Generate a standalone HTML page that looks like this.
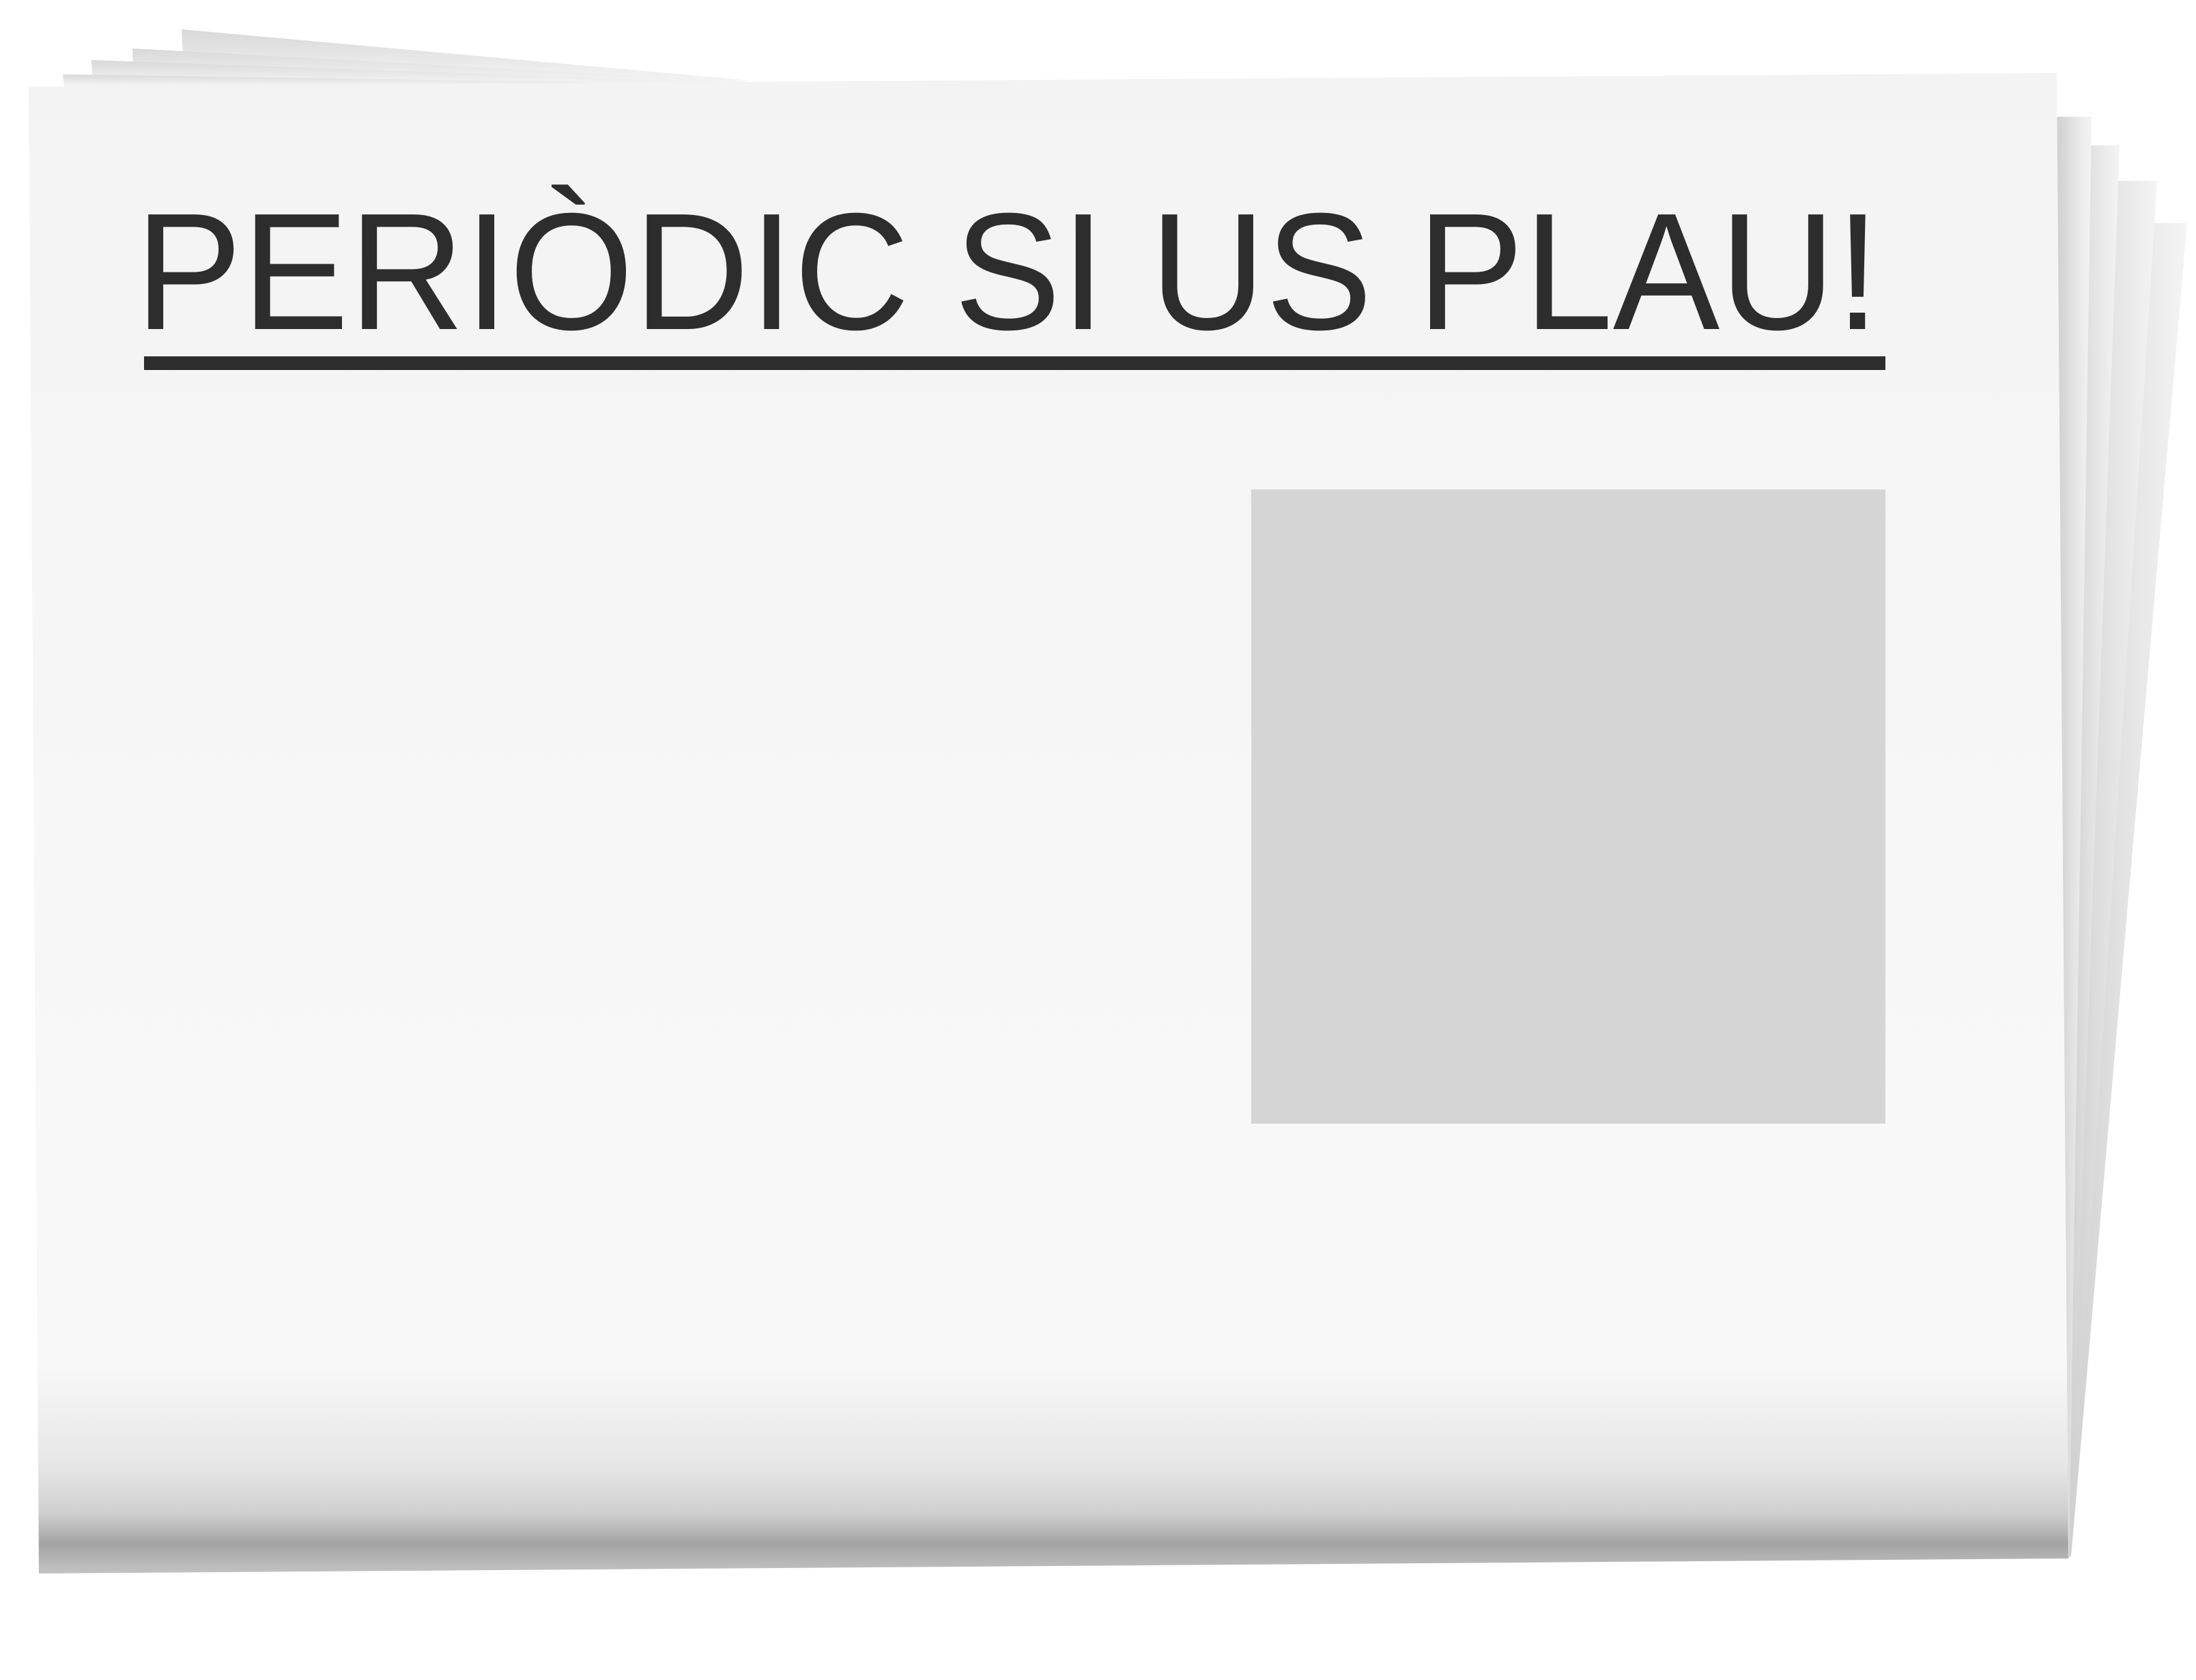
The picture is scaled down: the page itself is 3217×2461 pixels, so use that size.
<!DOCTYPE html>
<html><head><meta charset="utf-8"><style>
html,body{margin:0;padding:0;background:#fff;}
svg{display:block;}
</style></head><body>
<svg width="3217" height="2461" viewBox="0 0 3217 2461" xmlns="http://www.w3.org/2000/svg">
<defs>
<linearGradient id="bk" x1="0" y1="0" x2="1" y2="0">
<stop offset="0" stop-color="#cfcfcf"/><stop offset="0.5" stop-color="#e4e4e4"/><stop offset="1" stop-color="#f4f4f4"/>
</linearGradient>
<linearGradient id="tp" x1="0" y1="0" x2="0" y2="1">
<stop offset="0" stop-color="#d8d8d8"/><stop offset="1" stop-color="#f6f6f6"/>
</linearGradient>
<linearGradient id="main" x1="0" y1="107" x2="0" y2="2305" gradientUnits="userSpaceOnUse">
<stop offset="0" stop-color="#f3f3f3"/>
<stop offset="0.5" stop-color="#f7f7f7"/>
<stop offset="0.86" stop-color="#f8f8f8"/>
<stop offset="0.93" stop-color="#e6e6e6"/>
<stop offset="0.96" stop-color="#cfcfcf"/>
<stop offset="0.98" stop-color="#a4a4a4"/>
<stop offset="1" stop-color="#c2c2c2"/>
</linearGradient>
</defs>
<polygon points="266,43 1100,118 270,125" fill="url(#tp)"/>
<polygon points="194,71 1100,120 196,125" fill="url(#tp)"/>
<polygon points="134,88 1100,122 136,126" fill="url(#tp)"/>
<polygon points="92,109 1100,124 94,127" fill="url(#tp)"/>
<polygon points="3156,327 3204,327 3034,2280 3030,2280" fill="url(#bk)"/>
<polygon points="3102,265 3160,265 3032,2281 3030,2281" fill="url(#bk)"/>
<polygon points="3062,213 3105,213 3031,2282 3030,2282" fill="url(#bk)"/>
<polygon points="3013,171 3064,171 3031,2283 3030,2283" fill="url(#bk)"/>
<polygon points="42,127 3013,107 3030,2283 57,2305" fill="url(#main)"/>
<text x="198" y="482" font-family="Liberation Sans, Arial, sans-serif" font-size="244" fill="#2d2d2d" textLength="2556" lengthAdjust="spacingAndGlyphs">PERIÒDIC SI US PLAU!</text>
<rect x="211" y="522" width="2551" height="20" fill="#2d2d2d"/>
<rect x="1833" y="717" width="929" height="929" fill="#d5d5d5"/>
</svg>
</body></html>
